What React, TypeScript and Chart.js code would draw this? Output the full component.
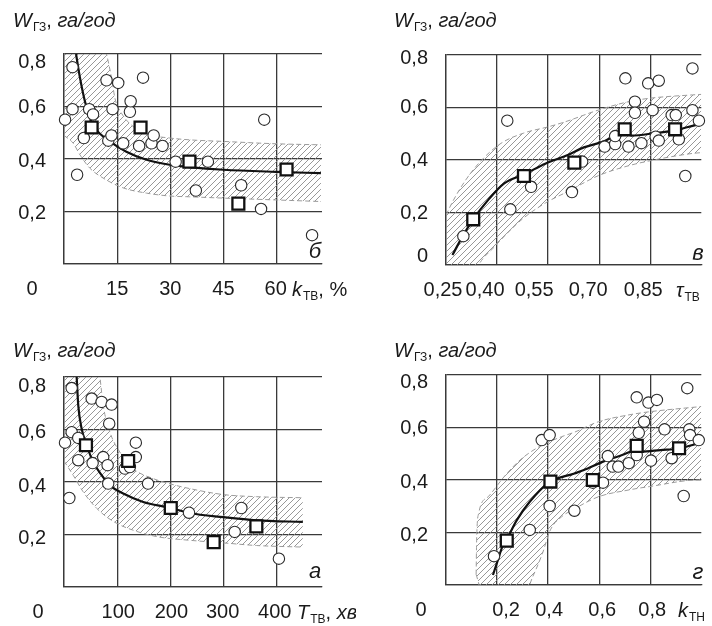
import React, { useEffect, useRef } from 'react';
import { Chart, registerables } from 'chart.js';

Chart.register(...registerables);

type P = [number, number];

// ---------- Panel б : W vs k_ТВ, % ----------
const bCircles: P[] = [[0.3,0.55],[2.4,0.75],[2.4,0.59],[3.7,0.34],[5.6,0.48],[7.1,0.59],[8.2,0.57],[12.0,0.70],[12.5,0.47],[13.4,0.49],[13.7,0.59],[15.3,0.69],[16.7,0.46],[18.6,0.58],[18.8,0.62],[21.2,0.45],[22.3,0.71],[24.7,0.46],[25.3,0.49],[27.8,0.45],[31.5,0.39],[37.2,0.28],[40.6,0.39],[50.0,0.30],[55.6,0.21],[56.5,0.55],[70.0,0.11]];
const bSquares: P[] = [[7.8,0.52],[21.6,0.52],[35.4,0.39],[49.2,0.23],[62.8,0.36]];
const bCurve: P[] = [[3.4,0.80],[4.5,0.71],[5.9,0.62],[7.8,0.54],[9.2,0.51],[12.9,0.467],[17.6,0.428],[23.3,0.397],[29.8,0.378],[35.4,0.369],[45,0.359],[59.8,0.351],[72.5,0.346]];
const bUpper: P[] = [[0,1.4],[6,1.1],[10,0.9],[12.0,0.80],[13.4,0.71],[14.4,0.63],[16.2,0.575],[19.5,0.524],[24.2,0.492],[29.8,0.48],[35.4,0.473],[45,0.467],[59.8,0.458],[72.5,0.454]];
const bLower: P[] = [[0,0.49],[2.6,0.46],[4.5,0.416],[7.3,0.365],[11.1,0.327],[16.7,0.29],[23.3,0.27],[29.8,0.259],[35.4,0.256],[45,0.251],[59.8,0.244],[72.5,0.238]];
const bXTicks = [0, 15, 30, 45, 60];
const bXTickText = ['0', '15', '30', '45', '60'];
const bYTicks = [0.2, 0.4, 0.6, 0.8];
const bYTickText = ['0,2', '0,4', '0,6', '0,8'];

// ---------- Panel в : W vs τ_ТВ ----------
const vCircles: P[] = [[0.301,0.11],[0.43,0.55],[0.439,0.212],[0.5,0.298],[0.62,0.278],[0.65,0.394],[0.716,0.451],[0.747,0.461],[0.747,0.491],[0.777,0.711],[0.786,0.451],[0.805,0.622],[0.805,0.58],[0.824,0.464],[0.844,0.692],[0.857,0.59],[0.866,0.489],[0.875,0.702],[0.875,0.474],[0.913,0.571],[0.925,0.571],[0.934,0.479],[0.953,0.339],[0.974,0.749],[0.974,0.59],[0.993,0.55]];
const vSquares: P[] = [[0.33,0.174],[0.479,0.339],[0.627,0.39],[0.775,0.517],[0.923,0.517]];
const vCurve: P[] = [[0.269,0.038],[0.299,0.11],[0.33,0.174],[0.374,0.248],[0.421,0.311],[0.479,0.345],[0.543,0.387],[0.608,0.419],[0.655,0.448],[0.712,0.47],[0.775,0.505],[0.796,0.493],[0.861,0.502],[0.923,0.514],[0.983,0.533],[1.0,0.537]];
const vUpper: P[] = [[0.25,0.19],[0.271,0.245],[0.308,0.324],[0.355,0.40],[0.411,0.463],[0.477,0.502],[0.552,0.527],[0.599,0.545],[0.697,0.59],[0.786,0.622],[0.847,0.635],[0.974,0.648],[1.0,0.65]];
const vLower: P[] = [[0.25,-0.3],[0.346,0.0],[0.393,0.07],[0.43,0.121],[0.477,0.178],[0.543,0.237],[0.608,0.28],[0.697,0.34],[0.786,0.378],[0.88,0.405],[0.974,0.425],[1.0,0.428]];
const vXTicks = [0.25, 0.40, 0.55, 0.70, 0.85];
const vXTickText = ['0,25', '0,40', '0,55', '0,70', '0,85'];
const vYTicks = [0, 0.2, 0.4, 0.6, 0.8];
const vYTickText = ['0', '0,2', '0,4', '0,6', '0,8'];

// ---------- Panel а : W vs T_ТВ, хв ----------
const aCircles: P[] = [[1.9,0.55],[10,0.339],[14.4,0.758],[14.4,0.59],[26.8,0.568],[26.8,0.483],[52,0.718],[53.8,0.472],[70.7,0.705],[73.7,0.495],[82,0.464],[83.1,0.394],[85,0.622],[89.5,0.695],[114.4,0.451],[123.8,0.457],[135,0.55],[135,0.495],[158,0.394],[235,0.283],[320.9,0.21],[333.4,0.301],[404,0.108]];
const aSquares: P[] = [[41.3,0.54],[120.6,0.48],[200.7,0.301],[281.4,0.171],[361.6,0.231]];
const aCurve: P[] = [[23.8,0.8],[26.8,0.692],[33.2,0.603],[42.6,0.54],[55,0.476],[70.7,0.426],[86.3,0.387],[111.3,0.356],[148.8,0.324],[198.9,0.302],[236,0.282],[300,0.266],[362,0.254],[449,0.248]];
const aUpper: P[] = [[0,1.6],[40,1.1],[60,0.9],[67.5,0.8],[73.7,0.692],[86.3,0.59],[105,0.514],[130,0.451],[167.5,0.413],[205,0.39],[236,0.375],[300,0.352],[362,0.344],[449,0.34]];
const aLower: P[] = [[0,0.48],[17.5,0.425],[36.2,0.362],[61.3,0.3],[92.5,0.25],[136.4,0.212],[180,0.19],[236,0.178],[300,0.168],[362,0.158],[449,0.152]];
const aXTicks = [0, 100, 200, 300, 400];
const aXTickText = ['0', '100', '200', '300', '400'];
const aYTicks = [0.2, 0.4, 0.6, 0.8];
const aYTickText = ['0,2', '0,4', '0,6', '0,8'];

// ---------- Panel г : W vs k_ТН ----------
const gCircles: P[] = [[0.188,0.11],[0.328,0.21],[0.375,0.552],[0.406,0.571],[0.406,0.301],[0.503,0.283],[0.575,0.39],[0.615,0.39],[0.634,0.491],[0.653,0.451],[0.675,0.451],[0.716,0.464],[0.747,0.715],[0.747,0.495],[0.755,0.58],[0.776,0.622],[0.793,0.695],[0.803,0.474],[0.826,0.705],[0.856,0.593],[0.884,0.483],[0.931,0.339],[0.945,0.75],[0.953,0.593],[0.956,0.571],[0.99,0.552]];
const gSquares: P[] = [[0.238,0.169],[0.409,0.394],[0.575,0.4],[0.747,0.53],[0.913,0.521]];
const gCurve: P[] = [[0.184,0.038],[0.203,0.095],[0.221,0.146],[0.24,0.178],[0.278,0.248],[0.328,0.317],[0.403,0.39],[0.503,0.425],[0.54,0.438],[0.615,0.47],[0.69,0.495],[0.747,0.514],[0.765,0.508],[0.84,0.514],[0.913,0.52],[0.99,0.54],[1.0,0.542]];
const gUpper: P[] = [[0.118,0.04],[0.12,0.17],[0.128,0.273],[0.165,0.336],[0.228,0.413],[0.29,0.476],[0.365,0.527],[0.453,0.565],[0.503,0.582],[0.597,0.622],[0.716,0.648],[0.797,0.66],[0.99,0.679],[1.0,0.68]];
const gLower: P[] = [[0.118,0.04],[0.15,-0.05],[0.30,-0.05],[0.34,0.032],[0.378,0.121],[0.409,0.21],[0.453,0.26],[0.503,0.29],[0.597,0.336],[0.716,0.362],[0.797,0.375],[0.99,0.4],[1.0,0.4]];
const gXTicks = [0, 0.2, 0.4, 0.6, 0.8];
const gXTickText = ['0', '0,2', '0,4', '0,6', '0,8'];
const gYTicks = [0.2, 0.4, 0.6, 0.8];
const gYTickText = ['0,2', '0,4', '0,6', '0,8'];

const yGrid = [0, 0.2, 0.4, 0.6, 0.8];

const FONT = "'Liberation Sans', Arial, Helvetica, sans-serif";
const INK = '#1a1a1a';
const GRID = '#3a3a3a';
const FS = 20;

interface Part { t: string; i?: boolean; sub?: boolean }

const titleParts: Part[] = [{ t: 'W', i: true }, { t: 'ГЗ', sub: true }, { t: ', ' }, { t: 'га/год', i: true }];

interface Panel {
  key: string;
  ox: number; oy: number;
  pad: { left: number; top: number; right: number; bottom: number };
  xMin: number; xMax: number;
  xTicks: number[]; xText: string[]; xShift: number[];
  yTicks: number[]; yText: string[]; yShift: number[];
  circles: P[]; squares: P[]; curve: P[]; upper: P[]; lower: P[];
  nameParts: Part[]; nameX: number;
  titleX: number; titleY: number;
  letter: string; letterX: number; letterY: number;
}

const panels: Panel[] = [
  {
    key: 'b', ox: 0, oy: 0,
    pad: { left: 64, top: 54, right: 34, bottom: 49 },
    xMin: 0, xMax: 72.8,
    xTicks: bXTicks, xText: bXTickText, xShift: [-32, 0, 0, 0, -1],
    yTicks: bYTicks, yText: bYTickText, yShift: [2, 2, 1, 8],
    circles: bCircles, squares: bSquares, curve: bCurve, upper: bUpper, lower: bLower,
    nameParts: [{ t: 'k', i: true }, { t: 'ТВ', sub: true }, { t: ', %' }], nameX: 292,
    titleX: 13, titleY: 27,
    letter: 'б', letterX: 315, letterY: 258,
  },
  {
    key: 'v', ox: 356, oy: 0,
    pad: { left: 90, top: 55, right: 0, bottom: 48 },
    xMin: 0.25, xMax: 1.0,
    xTicks: vXTicks, xText: vXTickText, xShift: [-3, -12, -14, -11, -7],
    yTicks: vYTicks, yText: vYTickText, yShift: [-9, 1, 0, 0, 3],
    circles: vCircles, squares: vSquares, curve: vCurve, upper: vUpper, lower: vLower,
    nameParts: [{ t: 'τ', i: true }, { t: 'ТВ', sub: true }], nameX: 320,
    titleX: 38, titleY: 27,
    letter: 'в', letterX: 342, letterY: 260,
  },
  {
    key: 'a', ox: 0, oy: 313,
    pad: { left: 64, top: 64, right: 34, bottom: 39 },
    xMin: 0, xMax: 485,
    xTicks: aXTicks, xText: aXTickText, xShift: [-26, 1, 1, -1, -2],
    yTicks: aYTicks, yText: aYTickText, yShift: [4, 4, 3, 9],
    circles: aCircles, squares: aSquares, curve: aCurve, upper: aUpper, lower: aLower,
    nameParts: [{ t: 'T', i: true }, { t: 'ТВ', sub: true }, { t: ', ' }, { t: 'хв', i: true }], nameX: 297,
    titleX: 13, titleY: 44,
    letter: 'а', letterX: 315, letterY: 265,
  },
  {
    key: 'g', ox: 356, oy: 313,
    pad: { left: 90, top: 62, right: 0, bottom: 41 },
    xMin: 0, xMax: 1.0,
    xTicks: gXTicks, xText: gXTickText, xShift: [-25, 9, 1, 3, 2],
    yTicks: gYTicks, yText: gYTickText, yShift: [3, 2, 1, 7],
    circles: gCircles, squares: gSquares, curve: gCurve, upper: gUpper, lower: gLower,
    nameParts: [{ t: 'k', i: true }, { t: 'ТН', sub: true }], nameX: 322,
    titleX: 38, titleY: 44,
    letter: 'г', letterX: 342, letterY: 266,
  },
];

function drawRich(ctx: CanvasRenderingContext2D, x: number, y: number, parts: Part[], size: number) {
  let cx = x;
  ctx.textAlign = 'left';
  ctx.textBaseline = 'alphabetic';
  for (const p of parts) {
    const fs = p.sub ? Math.round(size * 0.6) : size;
    ctx.font = `${p.i ? 'italic ' : ''}${fs}px ${FONT}`;
    ctx.fillText(p.t, cx, p.sub ? y + size * 0.2 : y);
    cx += ctx.measureText(p.t).width + (p.i ? 1 : 0);
  }
}

function makeHatch(): CanvasPattern | string {
  const s = 6;
  const c = document.createElement('canvas');
  c.width = s; c.height = s;
  const g = c.getContext('2d');
  if (!g) return 'rgba(0,0,0,0.1)';
  g.strokeStyle = '#8c8c8c';
  g.lineWidth = 0.9;
  g.beginPath();
  g.moveTo(0, s); g.lineTo(s, 0);
  g.moveTo(-1, 1); g.lineTo(1, -1);
  g.moveTo(s - 1, s + 1); g.lineTo(s + 1, s - 1);
  g.stroke();
  return g.createPattern(c, 'repeat') || 'rgba(0,0,0,0.1)';
}

const toXY = (arr: P[]) => arr.map(([x, y]) => ({ x, y }));

function PanelChart({ p }: { p: Panel }) {
  const ref = useRef<HTMLCanvasElement | null>(null);
  useEffect(() => {
    if (!ref.current) return;
    const pattern = makeHatch();
    const textPlugin = {
      id: 'txt_' + p.key,
      afterDraw(chart: any) {
        const ctx: CanvasRenderingContext2D = chart.ctx;
        const area = chart.chartArea;
        const xs = chart.scales.x;
        const ys = chart.scales.y;
        ctx.save();
        ctx.fillStyle = INK;
        // y labels
        ctx.font = `${FS}px ${FONT}`;
        ctx.textAlign = 'right';
        ctx.textBaseline = 'middle';
        p.yTicks.forEach((v, i) => {
          ctx.fillText(p.yText[i], area.left - 18, ys.getPixelForValue(v) + p.yShift[i]);
        });
        // x labels
        const rowY = area.bottom + 25;
        ctx.textAlign = 'center';
        p.xTicks.forEach((v, i) => {
          ctx.fillText(p.xText[i], xs.getPixelForValue(v) + p.xShift[i], rowY);
        });
        // axis name
        drawRich(ctx, p.nameX, rowY + 7, p.nameParts, FS);
        // title
        drawRich(ctx, p.titleX, p.titleY, titleParts, FS);
        // panel letter
        ctx.font = `italic 22px ${FONT}`;
        ctx.textAlign = 'center';
        ctx.textBaseline = 'alphabetic';
        ctx.fillText(p.letter, p.letterX, p.letterY);
        ctx.restore();
      },
    };
    const chart = new Chart(ref.current, {
      type: 'scatter',
      data: {
        datasets: [
          {
            data: toXY(p.squares), showLine: false, clip: false as any,
            pointStyle: 'rect', pointRadius: 8.4, pointHoverRadius: 8.4,
            pointBackgroundColor: '#ffffff', pointBorderColor: '#111111', pointBorderWidth: 2.3,
          },
          {
            data: toXY(p.circles), showLine: false, clip: false as any,
            pointStyle: 'circle', pointRadius: 5.7, pointHoverRadius: 5.7,
            pointBackgroundColor: '#ffffff', pointBorderColor: '#2a2a2a', pointBorderWidth: 1.1,
          },
          {
            data: toXY(p.curve), showLine: true, borderColor: '#111111', borderWidth: 2.2,
            pointRadius: 0, pointHoverRadius: 0, cubicInterpolationMode: 'monotone', fill: false,
          },
          {
            data: toXY(p.upper), showLine: true, borderColor: '#9c9c9c', borderWidth: 1,
            borderDash: [5, 3], pointRadius: 0, pointHoverRadius: 0,
            cubicInterpolationMode: 'monotone', fill: '+1', backgroundColor: pattern as any,
          },
          {
            data: toXY(p.lower), showLine: true, borderColor: '#9c9c9c', borderWidth: 1,
            borderDash: [5, 3], pointRadius: 0, pointHoverRadius: 0,
            cubicInterpolationMode: 'monotone', fill: false,
          },
        ] as any,
      },
      options: {
        animation: false,
        responsive: false,
        events: [],
        layout: { padding: p.pad },
        plugins: { legend: { display: false }, tooltip: { enabled: false }, title: { display: false } },
        scales: {
          x: {
            type: 'linear', min: p.xMin, max: p.xMax,
            afterBuildTicks: (s: any) => { s.ticks = p.xTicks.map((v) => ({ value: v })); },
            afterFit: (s: any) => { s.height = 0; },
            ticks: { display: false },
            grid: { color: GRID, lineWidth: 1.3, drawTicks: false },
            border: { display: true, color: GRID, width: 1.3 },
          },
          y: {
            type: 'linear', min: 0, max: 0.8,
            afterBuildTicks: (s: any) => { s.ticks = yGrid.map((v) => ({ value: v })); },
            afterFit: (s: any) => { s.width = 0; },
            ticks: { display: false },
            grid: { color: GRID, lineWidth: 1.3, drawTicks: false },
            border: { display: true, color: GRID, width: 1.3 },
          },
        },
      } as any,
      plugins: [textPlugin],
    });
    return () => chart.destroy();
  }, [p]);
  return (
    <canvas
      ref={ref}
      width={356}
      height={313}
      style={{ position: 'absolute', left: p.ox, top: p.oy, width: 356, height: 313 }}
    />
  );
}

export default function App() {
  return (
    <div style={{ position: 'fixed', left: 0, top: 0, width: 712, height: 626, background: '#ffffff', overflow: 'hidden' }}>
      {panels.map((p) => (
        <PanelChart key={p.key} p={p} />
      ))}
    </div>
  );
}
